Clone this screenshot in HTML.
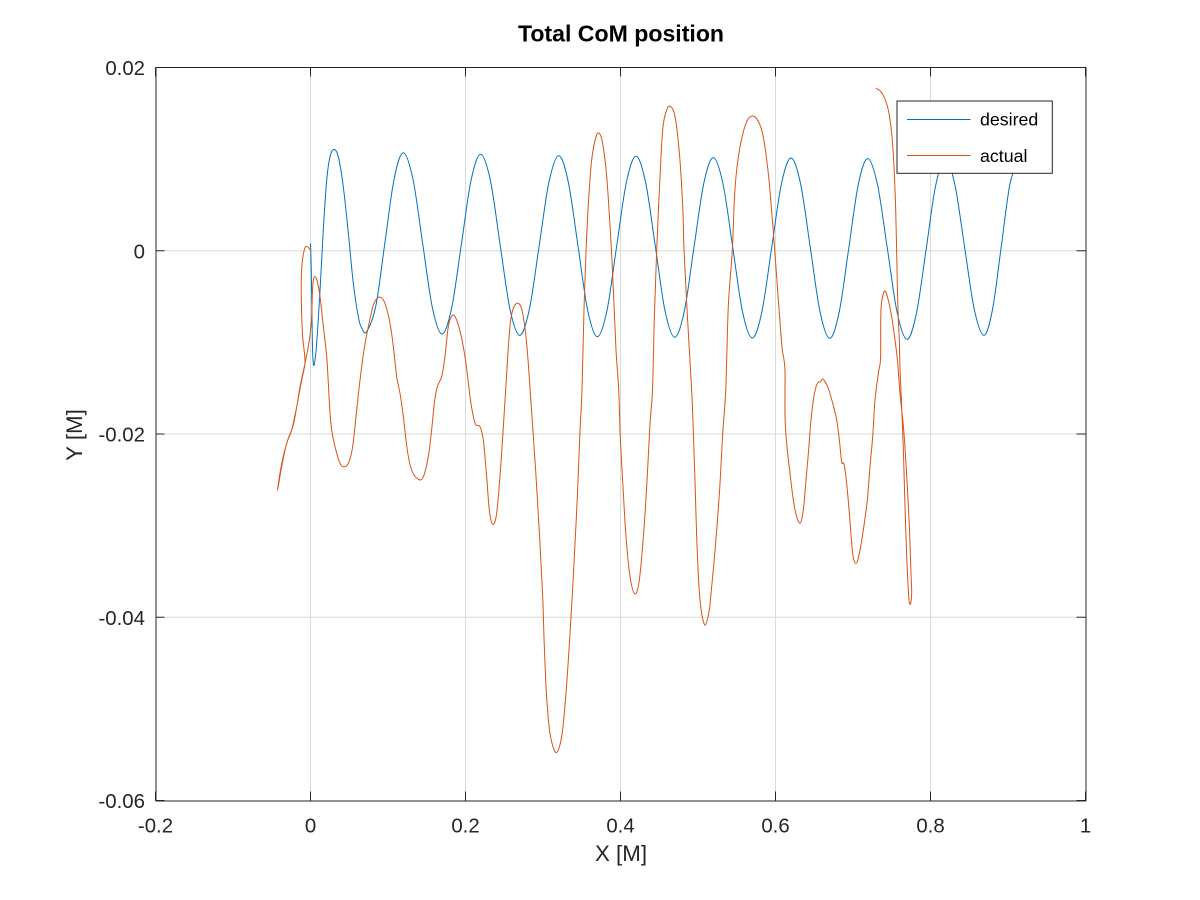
<!DOCTYPE html>
<html>
<head>
<meta charset="utf-8">
<title>Total CoM position</title>
<style>
html,body{margin:0;padding:0;background:#fff;}
svg{display:block;font-family:"Liberation Sans",sans-serif;}
</style>
</head>
<body>
<svg id="chart" width="1200" height="900" viewBox="0 0 1200 900" xmlns="http://www.w3.org/2000/svg">
<rect x="0" y="0" width="1200" height="900" fill="#ffffff"/>
<g id="grid"></g>
<g id="series"></g>
<g id="ticks"></g>
<g stroke="#262626" stroke-width="1" fill="none">
<line x1="155.5" y1="67.5" x2="1086" y2="67.5"/>
<line x1="156" y1="67" x2="156" y2="801"/>
<line x1="1086" y1="67" x2="1086" y2="801"/>
<line x1="155.5" y1="801" x2="1086" y2="801"/>
</g>
<text x="621" y="41.5" text-anchor="middle" font-size="23.1" font-weight="bold" fill="#000000">Total CoM position</text>
<text x="621" y="861" text-anchor="middle" font-size="22.3" fill="#262626">X [M]</text>
<text transform="translate(82,435) rotate(-90)" text-anchor="middle" font-size="22.3" fill="#262626">Y [M]</text>
<g>
<rect x="897" y="101" width="155.3" height="72.3" fill="#ffffff" stroke="#262626" stroke-width="1"/>
<line x1="907" y1="119.5" x2="970.5" y2="119.5" stroke="#0072BD" stroke-width="1"/>
<text x="980" y="125.5" font-size="17.8" fill="#000000">desired</text>
<line x1="907" y1="155.5" x2="970.5" y2="155.5" stroke="#D95319" stroke-width="1"/>
<text x="980" y="162" font-size="17.8" fill="#000000">actual</text>
</g>
</svg>
<script>
const xTickValues = [-0.2, 0, 0.2, 0.4, 0.6, 0.8, 1];
const xTickLabels = ["-0.2", "0", "0.2", "0.4", "0.6", "0.8", "1"];
const yTickValues = [0.02, 0, -0.02, -0.04, -0.06];
const yTickLabels = ["0.02", "0", "-0.02", "-0.04", "-0.06"];

const desiredX = [
0,.001,.0019,.0028,.0045,.008,.0123,.0165,.0209,.0252,.0303,.0359,.0423,.0488,.0552,.0617,.0661,.0725,
.0844,.0961,.1079,.1197,
.1322,.1447,.1572,.1697,
.1822,.1947,.2071,.2196,
.2322,.2447,.2573,.2699,
.2825,.2951,.3077,.3203,
.3327,.3452,.3576,.3701,
.3826,.395,.4075,.42,
.4325,.445,.4574,.4699,
.4824,.4948,.5073,.5197,
.5323,.5449,.5574,.57,
.5825,.595,.6075,.62,
.6325,.645,.6575,.67,
.6822,.6945,.7067,.719,
.7317,.7444,.757,.7697,
.782,.7944,.8067,.819,
.8315,.844,.8565,.869,
.88,.8912,.9023,.9134
];
const desiredY = [
.00081,-.0021,-.00721,-.01117,-.0125,-.01007,-.00428,.00226,.00772,.01026,.01107,.01026,.00699,.00194,-.00352,-.0072,-.00843,-.00883,
-.00596,.00094,.00784,.0107,
.00781,.00081,-.00619,-.00909,
-.00622,.00072,.00766,.01053,
.00764,.00065,-.00634,-.00923,
-.00636,.00057,.0075,.01037,
.00748,.0005,-.00648,-.00938,
-.00649,.00047,.00743,.01031,
.00742,.00044,-.00654,-.00944,
-.00657,.00036,.00729,.01016,
.00728,.00032,-.00664,-.00952,
-.00664,.0003,.00724,.01012,
.00724,.00028,-.00668,-.00956,
-.00668,.00025,.00718,.01005,
.00717,.0002,-.00677,-.00966,
-.00677,.00018,.00713,.01001,
.00719,.00039,-.00641,-.00923,
-.00641,.00039,.00719,.01
];

const actualX = [
.0002,-.0062,-.0101,-.0118,-.0118,-.0101,-.0071,-.0114,-.0178,-.0243,-.0308,-.0372,-.0424,
-.0394,-.0342,-.0286,-.0222,-.017,-.0127,-.0071,-.0015,.0015,.0024,.0037,.0058,.0088,.0123,.0166,.0209,.023,.0252,.0273,.0316,.0381,.0432,.0488,.0544,.0596,.0639,.069,.0746,.0811,.0862,.0905,.0961,
.1026,.1069,.1112,.1155,.1198,.1249,.1305,.1391,.1456,.152,.1563,.1598,.1636,.1692,.1735,.1778,.183,.1886,.1951,
.2006,.2058,.2101,.2136,.2187,.223,.2273,.2307,.235,.2402,.2454,.251,.2553,.2583,.2626,.2682,.2733,.2789,.284,.2896,
.2918,.2961,.2996,.3017,.3047,.309,.3168,.3241,.3293,.3349,.34,.3443,.3478,.3503,
.353,.3556,.3586,.3628,.3684,.3727,.377,.3822,.3873,.3908,.3942,.3977,
.3997,.4037,.4071,.4123,.4187,.4243,.4295,.4338,.4381,.4413,
.4437,.4467,.4502,.4544,.4596,.4647,.4704,.476,.4803,.482,.4866,.4918,
.4939,.4961,.4983,.5013,.5047,.5095,.5146,.5164,.522,.5276,.5319,.5358,
.5391,.5443,.5469,.5499,.5551,.5628,.5706,.578,.5842,.5907,.5963,.6015,.6079,
.611,.6123,.6123,.6144,.6187,.623,.6273,.632,.6359,.6394,.6424,.6454,.6488,.6523,.6553,.6583,.6604,.6639,.6682,.6738,.6789,.6824,.6845,.6858,.6884,.6918,.6953,.6996,.7039,.7082,.7133,.7185,.7219,.7254,.7284,.7327,
.7355,.7358,.7368,.7409,.7455,.7499,.7542,.7577,.7606,.7658,.7701,.7727,.7748,.7757,.774,.7719,.7693,.7671,.765,.7628,.7607,.7598,
.7585,.7572,.7563,.7551,.7529,.7499,.7456,.74,.7349,.7293
];
const actualY = [
.00008,.00045,-.00083,-.00283,-.00574,-.00938,-.01211,-.01411,-.01702,-.01956,-.02102,-.02357,-.02611,
-.02429,-.02211,-.02047,-.01902,-.01665,-.01447,-.01229,-.00974,-.00719,-.00465,-.00319,-.00283,-.00337,-.00501,-.00829,-.01156,-.01447,-.01774,-.01956,-.02138,-.0232,-.02357,-.0232,-.02138,-.01738,-.01411,-.01083,-.00829,-.00592,-.00519,-.00508,-.00574,
-.00792,-.01047,-.01374,-.01556,-.01811,-.02175,-.02393,-.02495,-.02466,-.02247,-.01956,-.01665,-.01483,-.01374,-.01156,-.00829,-.00705,-.00756,-.00956,
-.01229,-.01593,-.01811,-.01902,-.0192,-.02066,-.02466,-.02829,-.02986,-.02866,-.02357,-.01629,-.01047,-.00756,-.0061,-.00574,-.00665,-.0101,-.01593,-.02284,
-.02575,-.03193,-.03775,-.04321,-.04867,-.05267,-.05478,-.05303,-.04867,-.04175,-.03412,-.02684,-.01956,-.0152,
-.0061,.00008,.00518,.0099,.01245,.01281,.01172,.00809,.00154,-.00428,-.01083,-.0152,
-.02029,-.02648,-.0312,-.03557,-.03746,-.03593,-.0312,-.02575,-.01884,-.0152,
-.00719,.00008,.00663,.01318,.01536,.01573,.01463,.01063,.00481,.00008,-.00756,-.0152,
-.01956,-.02502,-.0312,-.03666,-.03957,-.04085,-.03921,-.03775,-.03266,-.02648,-.01993,-.0152,
-.0061,.00008,.00554,.00881,.01172,.01409,.01471,.01409,.01245,.00845,.00299,-.00283,-.0101,
-.01192,-.01338,-.01811,-.02102,-.02429,-.0272,-.02902,-.02971,-.02829,-.02502,-.02211,-.01884,-.01629,-.01483,-.01436,-.01429,-.014,-.01429,-.01502,-.01665,-.01847,-.02066,-.02247,-.0232,-.02327,-.02538,-.02866,-.03302,-.03412,-.03302,-.03048,-.0272,-.02357,-.02029,-.01629,-.01338,
-.0118,-.00756,-.0057,-.00439,-.00538,-.0072,-.00974,-.01225,-.01552,-.01993,-.02575,-.03011,-.03521,-.03739,-.03859,-.03775,-.03339,-.02793,-.02175,-.01702,-.01302,-.00974,
-.00756,-.00392,.00008,.00445,.00918,.01282,.01536,.01682,.01747,.01773
];

const SVG_NS = "http://www.w3.org/2000/svg";
const plotLeft = 155.5, plotRight = 1085.5, plotTop = 67.5, plotBottom = 800.5;
const xMin = -0.2, xMax = 1, yMin = -0.06, yMax = 0.02;
function xScale(v) { return plotLeft + (v - xMin) / (xMax - xMin) * (plotRight - plotLeft); }
function yScale(v) { return plotBottom - (v - yMin) / (yMax - yMin) * (plotBottom - plotTop); }
function make(tag, attrs) {
  const el = document.createElementNS(SVG_NS, tag);
  for (const k in attrs) el.setAttribute(k, attrs[k]);
  return el;
}
function smoothPath(xs, ys) {
  const n = Math.min(xs.length, ys.length);
  const p = [];
  for (let i = 0; i < n; i++) p.push([xScale(xs[i]), yScale(ys[i])]);
  let d = "M" + p[0][0].toFixed(2) + " " + p[0][1].toFixed(2);
  for (let i = 0; i < n - 1; i++) {
    const a = p[Math.max(i - 1, 0)], b = p[i], c = p[i + 1], e = p[Math.min(i + 2, n - 1)];
    const c1x = b[0] + (c[0] - a[0]) / 6, c1y = b[1] + (c[1] - a[1]) / 6;
    const c2x = c[0] - (e[0] - b[0]) / 6, c2y = c[1] - (e[1] - b[1]) / 6;
    d += "C" + c1x.toFixed(2) + " " + c1y.toFixed(2) + " " + c2x.toFixed(2) + " " + c2y.toFixed(2) + " " + c[0].toFixed(2) + " " + c[1].toFixed(2);
  }
  return d;
}

const gridGroup = document.getElementById("grid");
const tickGroup = document.getElementById("ticks");
const seriesGroup = document.getElementById("series");
const TICK_LEN = 9;

xTickValues.forEach(function (v, i) {
  const px = xScale(v);
  if (i > 0 && i < xTickValues.length - 1) {
    const g = make("line", { x1: px, y1: plotTop, x2: px, y2: plotBottom, stroke: "#dbdbdb", "stroke-width": 1 });
    
    
    gridGroup.appendChild(g);
  }
  const t1 = make("line", { x1: px, y1: plotBottom, x2: px, y2: plotBottom - TICK_LEN, stroke: "#262626", "stroke-width": 1 });
  
  
  tickGroup.appendChild(t1);
  const t2 = make("line", { x1: px, y1: plotTop, x2: px, y2: plotTop + TICK_LEN, stroke: "#262626", "stroke-width": 1 });
  
  
  tickGroup.appendChild(t2);
  const label = make("text", { x: px, y: 832.5, "text-anchor": "middle", "font-size": 20.4, fill: "#262626" });
  
  
  label.textContent = xTickLabels[i];
  tickGroup.appendChild(label);
});

yTickValues.forEach(function (v, i) {
  const py = yScale(v);
  if (i > 0 && i < yTickValues.length - 1) {
    const g = make("line", { x1: plotLeft, y1: py, x2: plotRight, y2: py, stroke: "#dbdbdb", "stroke-width": 1 });
    
    
    gridGroup.appendChild(g);
  }
  const t1 = make("line", { x1: plotLeft, y1: py, x2: plotLeft + TICK_LEN, y2: py, stroke: "#262626", "stroke-width": 1 });
  
  
  tickGroup.appendChild(t1);
  const t2 = make("line", { x1: plotRight, y1: py, x2: plotRight - TICK_LEN, y2: py, stroke: "#262626", "stroke-width": 1 });
  
  
  tickGroup.appendChild(t2);
  const label = make("text", { x: 145, y: py + 7.5, "text-anchor": "end", "font-size": 20.4, fill: "#262626" });
  
  
  label.textContent = yTickLabels[i];
  tickGroup.appendChild(label);
});

const desiredLine = make("path", { d: smoothPath(desiredX, desiredY), fill: "none", stroke: "#0072BD", "stroke-width": 1, "stroke-linejoin": "round" });


seriesGroup.appendChild(desiredLine);

const actualLine = make("path", { d: smoothPath(actualX, actualY), fill: "none", stroke: "#D95319", "stroke-width": 1, "stroke-linejoin": "round" });


seriesGroup.appendChild(actualLine);
</script>
</body>
</html>
